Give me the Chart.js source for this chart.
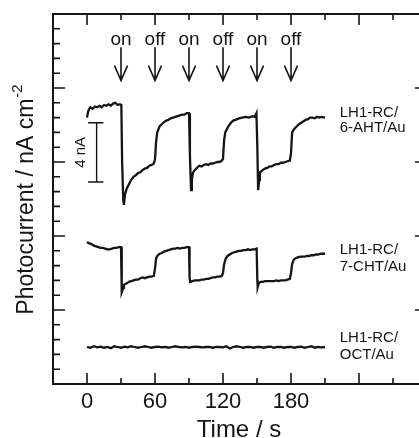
<!DOCTYPE html>
<html>
<head>
<meta charset="utf-8">
<script src="https://cdn.jsdelivr.net/npm/chart.js@4"></script>
<style>
  body { margin: 0; background: #fff; overflow: hidden; }
  #wrap { width: 440px; height: 438px; }
</style>
</head>
<body>
<div id="wrap"><canvas id="myChart"></canvas></div>
<script>
// LH1-RC/6-AHT/Au
const ahtTime = [0,1,2,3,5,7,9,11,13,15,17,19,21,23,25,27,29,30.3,31,32,32.6,33.5,35,37,39,41,43,45,47,49,51,53,55,57,59,
  60,61,62,64,66,68,70,72,74,76,78,80,82,84,86,88,90,90.8,91.8,92.5,93.6,95,97,99,101,103,105,107,109,111,113,115,117,119,
  120,121,122,124.6,127,129,131,134,137,140,143,146,148,149.5,150.3,151,152,152.6,155,157,159,161,163,165,167,169,171,173,175,177,179,
  180,181,183,185,187,189,191,193,195,197,199,201,203,205,207,210];
const ahtCurrent = [18.0,18.4,18.6,18.7,18.6,18.75,18.7,18.8,18.7,18.85,18.8,18.9,18.8,18.95,19.0,18.85,18.9,18.85,15.0,12.4,12.1,12.8,13.2,13.5,13.8,14.0,14.1,14.25,14.3,14.45,14.55,14.6,14.75,14.8,14.9,
  15.2,16.4,17.0,17.4,17.55,17.7,17.8,17.85,17.95,18.0,18.05,18.1,18.15,18.2,18.2,18.3,18.3,15.5,13.1,13.8,14.3,14.45,14.6,14.75,14.7,14.8,14.85,14.8,14.9,14.9,14.95,15.0,15.0,15.1,
  15.2,16.5,17.0,17.4,17.65,17.8,17.85,17.95,18.0,18.05,18.0,18.1,18.05,18.3,16.0,13.1,13.8,14.3,14.45,14.55,14.6,14.7,14.7,14.8,14.85,14.85,14.95,14.95,15.0,15.05,15.1,
  15.6,17.0,17.25,17.4,17.55,17.65,17.75,17.85,17.9,18.0,18.0,17.95,18.05,18.0,18.05,18.0];

// LH1-RC/7-CHT/Au
const chtTime = [0,2,4,6,8,10,12,14,16,18,20,22,24,26,28,30,30.5,30.8,32,32.6,35,37,39,41,43,45,47,49,51,53,55,57,59,
  60,61,62,64,66,68,70,72,74,76,78,80,82,84,86,88,90,90.5,91,93,95,97,99,101,103,105,107,109,111,113,115,117,119,
  120,121,122.5,124,126,128,130,132,134,136,138,140,142,144,146,148,149.7,150.3,150.6,151.5,153,155,157,159,161,163,165,167,169,171,173,175,177,179,
  180,181,182.5,184,186,188,190,192,194,196,198,200,202,204,206,208,210];
const chtCurrent = [9.6,9.5,9.45,9.35,9.3,9.25,9.2,9.2,9.15,9.1,9.1,9.15,9.2,9.2,9.25,9.25,7.0,6.2,6.5,6.7,6.8,6.9,6.95,7.0,7.05,7.05,7.15,7.2,7.15,7.2,7.25,7.25,7.3,
  7.8,8.5,8.65,8.8,8.85,8.95,9.0,9.05,9.1,9.15,9.15,9.2,9.15,9.2,9.2,9.25,9.25,7.2,6.9,6.95,7.0,7.0,7.0,7.05,7.05,7.1,7.1,7.15,7.2,7.2,7.25,7.25,7.3,
  7.5,8.1,8.5,8.65,8.75,8.85,8.9,8.95,9.0,9.0,9.05,9.05,9.1,9.05,9.1,9.1,9.15,7.0,6.55,6.8,6.9,6.9,6.95,6.95,6.95,6.95,6.95,7.0,6.95,7.0,7.0,7.0,7.05,7.1,
  7.5,8.1,8.4,8.5,8.55,8.6,8.6,8.6,8.65,8.65,8.7,8.7,8.75,8.75,8.8,8.8,8.8];

// LH1-RC/OCT/Au
const octTime = [0,3,6,9,12,15,18,21,24,27,30,33,36,39,42,45,48,51,54,57,60,63,66,69,72,75,78,81,84,87,90,93,96,99,102,105,
  108,111,114,117,120,123,126,129,132,135,138,141,144,147,150,153,156,159,162,165,168,171,174,177,180,183,186,189,192,195,198,201,204,207,210];
const octCurrent = [2.5,2.45,2.55,2.48,2.52,2.45,2.5,2.42,2.55,2.5,2.45,2.52,2.48,2.55,2.5,2.45,2.5,2.55,2.5,2.45,2.5,2.52,2.48,2.5,2.45,2.5,2.55,2.5,2.48,2.5,2.45,2.5,2.52,2.5,2.48,2.5,
  2.5,2.45,2.5,2.5,2.48,2.55,2.4,2.5,2.55,2.5,2.45,2.5,2.5,2.45,2.5,2.5,2.45,2.5,2.52,2.45,2.5,2.5,2.45,2.5,2.5,2.45,2.5,2.52,2.45,2.5,2.55,2.45,2.5,2.48,2.5];

const xTickLabels = [0, 60, 120, 180];
const xMajorTicks = [0, 60, 120, 180, 240];
const xMinorTicks = [30, 90, 150, 210, 270];
const yMajorTicks = [5, 10, 15, 20];
const yMinorTicks = [1,2,3,4,6,7,8,9,11,12,13,14,16,17,18,19,21,22,23,24];

const lightTimes = [30, 60, 90, 120, 150, 180];
const lightLabels = ['on', 'off', 'on', 'off', 'on', 'off'];

const sampleNames = [['LH1-RC/', '6-AHT/Au'], ['LH1-RC/', '7-CHT/Au'], ['LH1-RC/', 'OCT/Au']];
const sampleLabelY = [[18.3, 17.3], [9.05, 7.9], [3.1, 1.96]];

const FONT = '"Liberation Sans", Arial, sans-serif';
const INK = '#151515';

const toPoints = (ts, vs) => ts.map((t, i) => ({x: t, y: vs[i]}));

const decorations = {
  id: 'decorations',
  afterDraw(chart) {
    const c = chart.ctx;
    const a = chart.chartArea;
    const xs = chart.scales.x;
    const ys = chart.scales.y;
    c.save();
    c.strokeStyle = INK;
    c.fillStyle = INK;

    // ticks (inward, all four sides)
    c.lineWidth = 1.6;
    const vtick = (v, len) => {
      const px = xs.getPixelForValue(v);
      c.beginPath();
      c.moveTo(px, a.bottom); c.lineTo(px, a.bottom - len);
      c.moveTo(px, a.top); c.lineTo(px, a.top + len);
      c.stroke();
    };
    const htick = (v, len) => {
      const py = ys.getPixelForValue(v);
      c.beginPath();
      c.moveTo(a.left, py); c.lineTo(a.left + len, py);
      c.moveTo(a.right, py); c.lineTo(a.right - len, py);
      c.stroke();
    };
    xMajorTicks.forEach(v => vtick(v, 11));
    xMinorTicks.forEach(v => vtick(v, 6));
    yMajorTicks.forEach(v => htick(v, 12));
    yMinorTicks.forEach(v => htick(v, 7));

    // frame
    c.lineWidth = 2;
    c.strokeRect(a.left, a.top, a.right - a.left, a.bottom - a.top);

    // x tick labels
    c.font = '22px ' + FONT;
    c.textAlign = 'center';
    c.textBaseline = 'alphabetic';
    xTickLabels.forEach(v => c.fillText(String(v), xs.getPixelForValue(v), a.bottom + 24));

    // x title
    c.font = '24px ' + FONT;
    c.fillText('Time / s', (a.left + a.right) / 2 - 1, 437);

    // y title with superscript
    c.save();
    c.translate(27, 200);
    c.rotate(-Math.PI / 2);
    c.font = '23px ' + FONT;
    const main = 'Photocurrent / nA cm';
    const wMain = c.measureText(main).width;
    c.font = '15px ' + FONT;
    const wSup = c.measureText('-2').width;
    const start = -(wMain + wSup) / 2;
    c.textAlign = 'left';
    c.textBaseline = 'middle';
    c.font = '23px ' + FONT;
    c.fillText(main, start, 0);
    c.font = '15px ' + FONT;
    c.fillText('-2', start + wMain + 1, -9);
    c.restore();

    // on/off labels and arrows
    c.font = '19px ' + FONT;
    c.textAlign = 'center';
    c.textBaseline = 'alphabetic';
    c.lineWidth = 1.6;
    lightTimes.forEach((t, i) => {
      const px = xs.getPixelForValue(t);
      c.fillText(lightLabels[i], px, 45);
      const top = ys.getPixelForValue(22.75);
      const tip = ys.getPixelForValue(20.5);
      c.beginPath();
      c.moveTo(px, top); c.lineTo(px, tip);
      c.moveTo(px - 6.5, tip - 15); c.lineTo(px, tip); c.lineTo(px + 6.5, tip - 15);
      c.stroke();
    });

    // sample labels
    c.font = '15px ' + FONT;
    c.textAlign = 'left';
    c.textBaseline = 'middle';
    const lx = xs.getPixelForValue(223);
    sampleNames.forEach((lines, i) => {
      lines.forEach((s, j) => c.fillText(s, lx, ys.getPixelForValue(sampleLabelY[i][j])));
    });

    // 4 nA scale bar
    const bx = xs.getPixelForValue(8.5);
    const b0 = ys.getPixelForValue(13.65);
    const b1 = ys.getPixelForValue(17.65);
    const cl = xs.getPixelForValue(1);
    const cr = xs.getPixelForValue(14.5);
    c.lineWidth = 1.4;
    c.beginPath();
    c.moveTo(bx, b0); c.lineTo(bx, b1);
    c.moveTo(cl, b0); c.lineTo(cr, b0);
    c.moveTo(cl, b1); c.lineTo(cr, b1);
    c.stroke();
    c.save();
    c.translate(xs.getPixelForValue(-5.5), (b0 + b1) / 2);
    c.rotate(-Math.PI / 2);
    c.font = '15px ' + FONT;
    c.textAlign = 'center';
    c.textBaseline = 'middle';
    c.fillText('4 nA', 0, 0);
    c.restore();

    c.restore();
  }
};

const lineStyle = {
  borderColor: INK,
  borderWidth: 2.3,
  pointRadius: 0,
  tension: 0,
  fill: false
};

new Chart(document.getElementById('myChart'), {
  type: 'line',
  data: {
    datasets: [
      Object.assign({label: '6-AHT', data: toPoints(ahtTime, ahtCurrent)}, lineStyle),
      Object.assign({label: '7-CHT', data: toPoints(chtTime, chtCurrent)}, lineStyle),
      Object.assign({label: 'OCT', data: toPoints(octTime, octCurrent)}, lineStyle)
    ]
  },
  options: {
    responsive: true,
    maintainAspectRatio: false,
    animation: false,
    layout: { padding: { left: 53, right: 13, top: 14, bottom: 54 } },
    plugins: { legend: { display: false }, tooltip: { enabled: false } },
    scales: {
      x: { type: 'linear', min: -30, max: 300, display: false },
      y: { type: 'linear', min: 0, max: 25, display: false }
    }
  },
  plugins: [decorations]
});
</script>
</body>
</html>
